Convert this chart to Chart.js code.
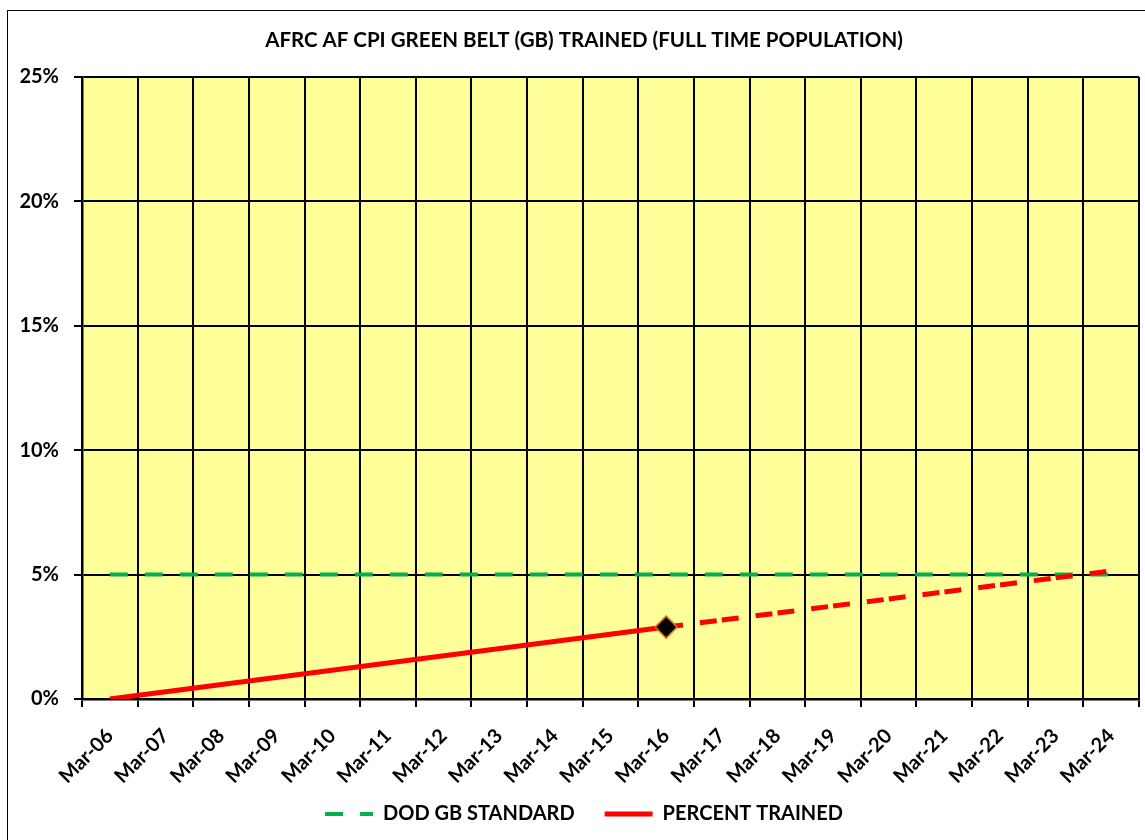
<!DOCTYPE html>
<html>
<head>
<meta charset="utf-8">
<script src="https://cdn.jsdelivr.net/npm/chart.js@4.4.1/dist/chart.umd.min.js"></script>
<style>
  html, body { margin: 0; padding: 0; overflow: hidden; background: #fff; width: 1145px; height: 840px; }
  #frame { position: absolute; left: 7px; top: 10px; width: 1152px; height: 850px; border: 1px solid #000; }
  #wrap { position: relative; width: 1152px; height: 850px; }
</style>
</head>
<body>
<div id="frame"><div id="wrap"><canvas id="c"></canvas></div></div>
<script>
const categories = ['Mar-06','Mar-07','Mar-08','Mar-09','Mar-10','Mar-11','Mar-12','Mar-13','Mar-14','Mar-15','Mar-16','Mar-17','Mar-18','Mar-19','Mar-20','Mar-21','Mar-22','Mar-23','Mar-24'];
const dodStandard = [5,5,5,5,5,5,5,5,5,5,5,5,5,5,5,5,5,5,5];
const percentTrained = [0,null,null,null,null,null,null,null,null,null,2.89,null,null,null,null,null,null,null,null];
const projection = [null,null,null,null,null,null,null,null,null,null,2.89,null,null,null,null,null,null,null,5.15];
const currentMarker = [null,null,null,null,null,null,null,null,null,null,2.89,null,null,null,null,null,null,null,null];
const yTicks = [0,5,10,15,20,25];
const legendLabels = ['DOD GB STANDARD', 'PERCENT TRAINED'];

const FONT = 'Lato, "Open Sans", sans-serif';

const plotBg = {
  id: 'plotBg',
  beforeDraw(chart) {
    const {ctx, chartArea: a} = chart;
    ctx.save();
    ctx.fillStyle = '#FFFF99';
    ctx.fillRect(a.left, a.top, a.right - a.left, a.bottom - a.top);
    ctx.restore();
  }
};

new Chart(document.getElementById('c'), {
  type: 'line',
  data: {
    labels: categories,
    datasets: [
      { label: 'CURRENT', data: currentMarker, showLine: false, pointStyle: 'rectRot', pointRadius: 11, pointHoverRadius: 11,
        pointBackgroundColor: '#000000', pointBorderColor: '#E46C0A', pointBorderWidth: 1.5, order: 0 },
      { label: legendLabels[0], data: dodStandard, borderColor: '#00B050', backgroundColor: '#00B050', borderWidth: 4,
        borderDash: [18,17], pointRadius: 0, spanGaps: true, order: 3 },
      { label: legendLabels[1], data: percentTrained, borderColor: '#FF0000', backgroundColor: '#FF0000', borderWidth: 5,
        pointRadius: 0, spanGaps: true, order: 1 },
      { label: 'PROJECTION', data: projection, borderColor: '#FF0000', backgroundColor: '#FF0000', borderWidth: 5,
        borderDash: [17,17,17,5.1], pointRadius: 0, spanGaps: true, order: 2 }
    ]
  },
  options: {
    responsive: true,
    maintainAspectRatio: false,
    animation: false,
    layout: { padding: { left: 0, right: 0, top: 0, bottom: 27 } },
    plugins: {
      title: {
        display: true,
        text: 'AFRC AF CPI GREEN BELT (GB) TRAINED (FULL TIME POPULATION)',
        color: '#000',
        font: { family: FONT, size: 20.5, weight: 'bold', lineHeight: 1.2 },
        padding: { top: 16.7, bottom: 24.7 }
      },
      legend: {
        position: 'bottom',
        labels: {
          generateLabels: (chart) => {
            const items = Chart.defaults.plugins.legend.labels.generateLabels(chart);
            items.forEach((it) => {
              const ds = chart.data.datasets[it.datasetIndex];
              it.lineDash = ds.borderDash || [];
              it.lineWidth = ds.borderWidth;
              it.strokeStyle = ds.borderColor;
              it.lineCap = 'butt';
            });
            return items;
          },
          filter: (item) => legendLabels.includes(item.text),
          sort: (a, b) => a.datasetIndex - b.datasetIndex,
          usePointStyle: true,
          pointStyle: 'line',
          pointStyleWidth: 48,
          color: '#000',
          padding: 30,
          font: { family: FONT, size: 20, weight: 'bold' }
        }
      },
      tooltip: { enabled: false }
    },
    scales: {
      x: {
        offset: true,
        grid: { offset: true, color: '#000', lineWidth: 2, tickLength: 8, drawTicks: true },
        border: { color: '#000', width: 2.5 },
        ticks: { autoSkip: false, maxRotation: 45, minRotation: 45, color: '#000', padding: 17, labelOffset: 0,
          font: { family: FONT, size: 20, weight: 'bold' } },
        afterFit: (s) => { s.height = 75; s._computeLabelArea = () => undefined; }
      },
      y: {
        min: 0, max: 25,
        afterBuildTicks: (s) => { s.ticks = yTicks.map(v => ({ value: v })); },
        grid: { color: '#000', lineWidth: 2, tickLength: 8, drawTicks: true },
        border: { color: '#000', width: 2.5 },
        ticks: { color: '#000', padding: 15, callback: (v) => v + '%',
          font: { family: FONT, size: 20, weight: 'bold' } },
        afterFit: (s) => { s.width = 74; }
      },
      yr: {
        position: 'right',
        display: true,
        grid: { display: false },
        border: { display: false },
        ticks: { display: false },
        afterFit: (s) => { s.width = 21; }
      }
    }
  },
  plugins: [plotBg]
});
</script>
</body>
</html>
